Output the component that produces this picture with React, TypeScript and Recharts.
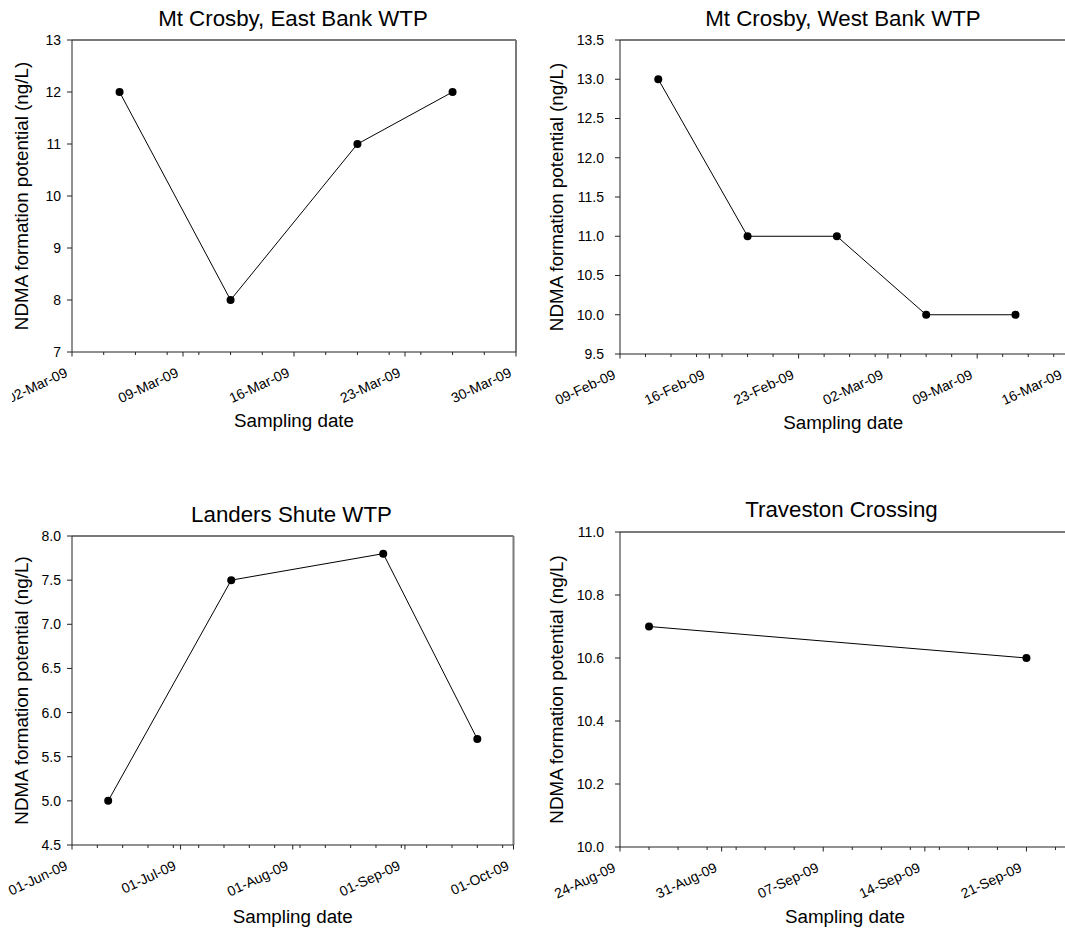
import { Line, LineChart, ReferenceLine, XAxis, YAxis } from "recharts";

const FONT = '"Liberation Sans", Arial, Helvetica, sans-serif';
const MONTHS = ["Jan", "Feb", "Mar", "Apr", "May", "Jun", "Jul", "Aug", "Sep", "Oct", "Nov", "Dec"];

// Mt Crosby, East Bank WTP
const eastDates = ["05-Mar-09", "12-Mar-09", "20-Mar-09", "26-Mar-09"];
const eastNdma = [12, 8, 11, 12];
const eastXTicks = ["02-Mar-09", "09-Mar-09", "16-Mar-09", "23-Mar-09", "30-Mar-09"];
const eastYTicks = [7, 8, 9, 10, 11, 12, 13];

// Mt Crosby, West Bank WTP
const westDates = ["12-Feb-09", "19-Feb-09", "26-Feb-09", "05-Mar-09", "12-Mar-09"];
const westNdma = [13, 11, 11, 10, 10];
const westXTicks = ["09-Feb-09", "16-Feb-09", "23-Feb-09", "02-Mar-09", "09-Mar-09", "16-Mar-09"];
const westYTicks = [9.5, 10, 10.5, 11, 11.5, 12, 12.5, 13, 13.5];

// Landers Shute WTP
const landersDates = ["11-Jun-09", "15-Jul-09", "26-Aug-09", "21-Sep-09"];
const landersNdma = [5.0, 7.5, 7.8, 5.7];
const landersXTicks = ["01-Jun-09", "01-Jul-09", "01-Aug-09", "01-Sep-09", "01-Oct-09"];
const landersYTicks = [4.5, 5.0, 5.5, 6.0, 6.5, 7.0, 7.5, 8.0];

// Traveston Crossing
const travestonDates = ["26-Aug-09", "21-Sep-09"];
const travestonNdma = [10.7, 10.6];
const travestonXTicks = ["24-Aug-09", "31-Aug-09", "07-Sep-09", "14-Sep-09", "21-Sep-09"];
const travestonYTicks = [10.0, 10.2, 10.4, 10.6, 10.8, 11.0];

const toDay = (s: string) => {
  const [d, m, y] = s.split("-");
  return Date.UTC(2000 + Number(y), MONTHS.indexOf(m), Number(d)) / 86400000;
};

const fmtDay = (t: number) => {
  const dt = new Date(t * 86400000);
  const dd = String(dt.getUTCDate()).padStart(2, "0");
  const yy = String(dt.getUTCFullYear() % 100).padStart(2, "0");
  return `${dd}-${MONTHS[dt.getUTCMonth()]}-${yy}`;
};

// minor tick marks, every `step` days from the axis start
const stepTicks = (start: number, end: number, step: number) => {
  const out: number[] = [];
  for (let t = start; t <= end; t += step) out.push(t);
  return out;
};

function DateTick(props: any) {
  const { x, y, payload, majors } = props;
  const major = majors.includes(payload.value);
  const ax = x - 3.5;
  const ay = y + 24;
  return (
    <g>
      <line x1={x} y1={y} x2={x} y2={y + (major ? 4.5 : 3)} stroke="#222" strokeWidth={1} />
      {major && (
        <text
          x={ax}
          y={ay}
          textAnchor="end"
          fontSize={14}
          fontFamily={FONT}
          fill="#000"
          transform={`rotate(-25 ${ax} ${ay})`}
        >
          {fmtDay(payload.value)}
        </text>
      )}
    </g>
  );
}

type PanelProps = {
  title: string;
  titleX: number;
  titleTop: number;
  dates: string[];
  values: number[];
  xTicks: string[];
  xEnd: string;
  minorStep: number;
  yTicks: number[];
  decimals: number;
  left: number;
  top: number;
  width: number;
  height: number;
  clipLeft?: number;
  axisWidth: number;
  margin: { top: number; right: number; bottom: number; left: number };
  yLabelDx: number;
  yTickMargin: number;
  xLabelOffset: number;
};

function Panel(p: PanelProps) {
  const data = p.dates.map((d, i) => ({ t: toDay(d), v: p.values[i] }));
  const majors = p.xTicks.map(toDay);
  const x0 = majors[0];
  const x1 = toDay(p.xEnd);
  const allTicks = Array.from(new Set([...stepTicks(x0, x1, p.minorStep), ...majors]))
    .filter((t) => t <= x1)
    .sort((a, b) => a - b);
  const yMin = p.yTicks[0];
  const yMax = p.yTicks[p.yTicks.length - 1];

  return (
    <>
      <div
        style={{
          position: "absolute",
          left: p.titleX - 250,
          top: p.titleTop,
          width: 500,
          textAlign: "center",
          fontSize: 22.3,
          lineHeight: 1,
          color: "#000",
        }}
      >
        {p.title}
      </div>
      <div
        style={{
          position: "absolute",
          left: p.left,
          top: p.top,
          clipPath: p.clipLeft ? `inset(0 0 0 ${p.clipLeft}px)` : undefined,
        }}
      >
        <LineChart width={p.width} height={p.height} data={data} margin={p.margin}>
          <XAxis
            dataKey="t"
            type="number"
            domain={[x0, x1]}
            ticks={allTicks}
            interval={0}
            height={80}
            tickSize={0}
            tickMargin={0}
            tickLine={false}
            axisLine={{ stroke: "#222", strokeWidth: 1 }}
            tick={(tp: any) => <DateTick {...tp} majors={majors} />}
            allowDataOverflow
            label={{
              value: "Sampling date",
              position: "insideBottom",
              offset: p.xLabelOffset,
              fill: "#000",
              fontSize: 18.8,
              fontFamily: FONT,
            }}
          />
          <YAxis
            type="number"
            domain={[yMin, yMax]}
            ticks={p.yTicks}
            interval={0}
            width={p.axisWidth}
            tickSize={5}
            tickMargin={p.yTickMargin}
            tickLine={{ stroke: "#222" }}
            axisLine={{ stroke: "#222", strokeWidth: 1 }}
            tick={{ fill: "#000", fontSize: 14, fontFamily: FONT }}
            tickFormatter={(v: number) => v.toFixed(p.decimals)}
            allowDataOverflow
            label={{
              value: "NDMA formation potential (ng/L)",
              angle: -90,
              position: "center",
              dx: p.yLabelDx,
              fill: "#000",
              fontSize: 18.8,
              fontFamily: FONT,
            }}
          />
          <ReferenceLine y={yMax} stroke="#7a7a7a" strokeWidth={2} />
          <ReferenceLine x={x1} stroke="#7a7a7a" strokeWidth={2} />
          <Line
            type="linear"
            dataKey="v"
            stroke="#000"
            strokeWidth={1}
            dot={{ r: 4, fill: "#000", stroke: "#000", strokeWidth: 0 }}
            activeDot={false}
            isAnimationActive={false}
          />
        </LineChart>
      </div>
    </>
  );
}

export default function App() {
  return (
    <div
      style={{
        position: "fixed",
        left: 0,
        top: 0,
        width: 1065,
        height: 929,
        overflow: "hidden",
        background: "#fff",
        fontFamily: FONT,
      }}
    >
      <Panel
        title="Mt Crosby, East Bank WTP"
        titleX={293}
        titleTop={8.2}
        dates={eastDates}
        values={eastNdma}
        xTicks={eastXTicks}
        xEnd="30-Mar-09"
        minorStep={2}
        yTicks={eastYTicks}
        decimals={0}
        left={0}
        top={0}
        width={540}
        height={460}
        clipLeft={12}
        axisWidth={72}
        margin={{ top: 40, right: 24, bottom: 28, left: 0 }}
        yLabelDx={-14.5}
        yTickMargin={6}
        xLabelOffset={5}
      />
      <Panel
        title="Mt Crosby, West Bank WTP"
        titleX={843}
        titleTop={8.2}
        dates={westDates}
        values={westNdma}
        xTicks={westXTicks}
        xEnd="16-Mar-09"
        minorStep={2}
        yTicks={westYTicks}
        decimals={1}
        left={530}
        top={0}
        width={560}
        height={460}
        axisWidth={90}
        margin={{ top: 40, right: 23.5, bottom: 26, left: 0 }}
        yLabelDx={-18.4}
        yTickMargin={11}
        xLabelOffset={5}
      />
      <Panel
        title="Landers Shute WTP"
        titleX={291.5}
        titleTop={504}
        dates={landersDates}
        values={landersNdma}
        xTicks={landersXTicks}
        xEnd="01-Oct-09"
        minorStep={7}
        yTicks={landersYTicks}
        decimals={1}
        left={0}
        top={460}
        width={540}
        height={469}
        axisWidth={72}
        margin={{ top: 76, right: 26.5, bottom: 4, left: 0 }}
        yLabelDx={-14.5}
        yTickMargin={6}
        xLabelOffset={2}
      />
      <Panel
        title="Traveston Crossing"
        titleX={841.5}
        titleTop={499}
        dates={travestonDates}
        values={travestonNdma}
        xTicks={travestonXTicks}
        xEnd="24-Sep-09"
        minorStep={2}
        yTicks={travestonYTicks}
        decimals={1}
        left={530}
        top={460}
        width={560}
        height={469}
        axisWidth={90}
        margin={{ top: 72, right: 20, bottom: 2, left: 0 }}
        yLabelDx={-18.4}
        yTickMargin={11}
        xLabelOffset={4}
      />
    </div>
  );
}
